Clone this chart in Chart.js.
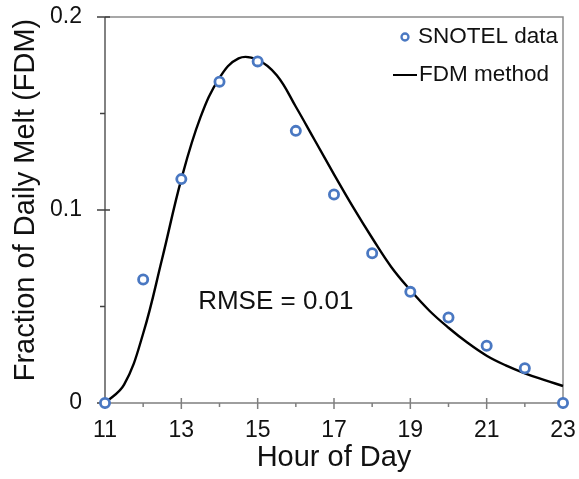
<!DOCTYPE html>
<html>
<head>
<meta charset="utf-8">
<script src="https://cdn.jsdelivr.net/npm/chart.js@4.4.1/dist/chart.umd.min.js"></script>
<style>
  html, body { margin: 0; padding: 0; background: #fff; }
  #wrap { width: 579px; height: 479px; position: relative; }
</style>
</head>
<body>
<div id="wrap"><canvas id="melt"></canvas></div>
<script>
// SNOTEL hourly observations (fraction of daily melt)
const hours = [11, 12, 13, 14, 15, 16, 17, 18, 19, 20, 21, 22, 23];
const snotelFdm = [0, 0.064, 0.116, 0.1665, 0.177, 0.141, 0.108, 0.0776, 0.0576, 0.0443, 0.0297, 0.018, 0];

// FDM method curve, every half hour
const curveHours = [11, 11.5, 12, 12.5, 13, 13.5, 14, 14.5, 15, 15.5, 16, 16.5, 17,
                    17.5, 18, 18.5, 19, 19.5, 20, 20.5, 21, 21.5, 22, 22.5, 23];
const curveFdm = [0, 0.0095, 0.036, 0.075, 0.116, 0.148, 0.1685, 0.1786, 0.1778, 0.1698, 0.1535, 0.136, 0.1185,
                  0.1015, 0.0855, 0.0705, 0.0585, 0.0478, 0.039, 0.0312, 0.0245, 0.0195, 0.0154, 0.012, 0.0088];

// ticks
const xMajor = [11, 13, 15, 17, 19, 21, 23];
const xMinor = [12, 14, 16, 18, 20, 22];
const yMajor = [0, 0.1, 0.2];
const yMinor = [0.05, 0.15];

const legendLabels = ['SNOTEL data', 'FDM method'];
const yTitle = 'Fraction of Daily Melt (FDM)';
const rmseText = 'RMSE = 0.01';
const rmsePos = [13.44, 0.0523];   // where the note sits, in data units

const FONT = '"Liberation Sans", Arial, sans-serif';
const BLUE = '#4a78c2';

// axes drawn by hand so the ticks can cross the axis line like the original
const framePlugin = {
  id: 'frame',
  beforeDatasetsDraw(chart) {
    const {ctx, chartArea: a, scales: {x, y}} = chart;
    ctx.save();
    ctx.lineCap = 'butt';

    // top + right border
    ctx.strokeStyle = '#8a8a8a';
    ctx.lineWidth = 1.5;
    ctx.beginPath();
    ctx.moveTo(a.left, a.top);
    ctx.lineTo(a.right, a.top);
    ctx.lineTo(a.right, a.bottom);
    ctx.stroke();

    // x axis
    ctx.strokeStyle = '#7f7f7f';
    ctx.beginPath();
    ctx.moveTo(a.left, a.bottom);
    ctx.lineTo(a.right, a.bottom);
    xMajor.forEach(v => {
      const px = x.getPixelForValue(v);
      ctx.moveTo(px, a.bottom - 5);
      ctx.lineTo(px, a.bottom + 6);
    });
    xMinor.forEach(v => {
      const px = x.getPixelForValue(v);
      ctx.moveTo(px, a.bottom);
      ctx.lineTo(px, a.bottom + 4);
    });
    ctx.stroke();

    // y axis
    ctx.strokeStyle = '#404040';
    ctx.lineWidth = 1.3;
    ctx.beginPath();
    ctx.moveTo(a.left, a.top);
    ctx.lineTo(a.left, a.bottom);
    yMajor.forEach(v => {
      const py = y.getPixelForValue(v);
      ctx.moveTo(a.left - 8, py);
      ctx.lineTo(a.left + (v > 0 ? 5 : 0), py);
    });
    yMinor.forEach(v => {
      const py = y.getPixelForValue(v);
      ctx.moveTo(a.left - 5, py);
      ctx.lineTo(a.left, py);
    });
    ctx.stroke();
    ctx.restore();
  },
  afterDatasetsDraw(chart) {
    const {ctx, chartArea: a, scales: {x, y}} = chart;
    ctx.save();
    ctx.fillStyle = '#111';
    ctx.textBaseline = 'middle';
    ctx.textAlign = 'left';

    // RMSE note
    ctx.font = '26px ' + FONT;
    ctx.fillText(rmseText, x.getPixelForValue(rmsePos[0]), y.getPixelForValue(rmsePos[1]));

    // legend
    const lx = a.right - 145;
    ctx.font = '22.5px ' + FONT;
    ctx.strokeStyle = BLUE;
    ctx.lineWidth = 2.3;
    ctx.beginPath();
    ctx.arc(lx - 13, a.top + 20, 3.5, 0, Math.PI * 2);
    ctx.stroke();
    ctx.fillText(legendLabels[0], lx, a.top + 20);

    ctx.strokeStyle = '#000';
    ctx.lineWidth = 2;
    ctx.beginPath();
    ctx.moveTo(lx - 25, a.top + 58);
    ctx.lineTo(lx - 1, a.top + 58);
    ctx.stroke();
    ctx.fillText(legendLabels[1], lx + 1, a.top + 58);

    // y axis title (sits a little above the axis centre in the original)
    ctx.font = '29px ' + FONT;
    ctx.textAlign = 'center';
    ctx.translate(26, (a.top + a.bottom) / 2 - 10);
    ctx.rotate(-Math.PI / 2);
    ctx.fillText(yTitle, 0, 0);
    ctx.restore();
  }
};

const ctx = document.getElementById('melt').getContext('2d');
const meltChart = new Chart(ctx, {
  type: 'scatter',
  data: {
    datasets: [{
      label: legendLabels[0],
      data: hours.map((h, i) => ({x: h, y: snotelFdm[i]})),
      pointRadius: 4.6,
      pointBorderWidth: 2.8,
      pointBorderColor: BLUE,
      pointBackgroundColor: '#fff',
      showLine: false,
      clip: false,
      order: 0
    }, {
      label: legendLabels[1],
      data: curveHours.map((h, i) => ({x: h, y: curveFdm[i]})),
      showLine: true,
      borderColor: '#000',
      borderWidth: 2.4,
      pointRadius: 0,
      tension: 0.4,
      fill: false,
      clip: false,
      order: 1
    }]
  },
  options: {
    responsive: true,
    maintainAspectRatio: false,
    animation: false,
    layout: { padding: { top: 17, right: 16, left: 0, bottom: 0 } },
    plugins: {
      legend: { display: false },
      tooltip: { enabled: false }
    },
    scales: {
      x: {
        type: 'linear',
        min: 11,
        max: 23,
        afterFit(scale) {
          scale.height = 76;
          scale.paddingLeft = 0;
          scale.paddingRight = 0;
        },
        grid: { display: false, drawTicks: false },
        border: { display: false },
        ticks: {
          stepSize: 2,
          padding: 14,
          maxRotation: 0,
          color: '#111',
          font: { family: FONT, size: 23 }
        },
        title: {
          display: true,
          text: 'Hour of Day',
          color: '#111',
          font: { family: FONT, size: 29 },
          padding: { top: 0, bottom: 4 }
        }
      },
      y: {
        min: 0,
        max: 0.2,
        afterFit(scale) {
          scale.width = 105;
          scale.paddingTop = 0;
          scale.paddingBottom = 0;
        },
        grid: { display: false, drawTicks: false },
        border: { display: false },
        ticks: {
          stepSize: 0.1,
          padding: 23,
          color: '#111',
          font: { family: FONT, size: 23 },
          callback: v => v === 0 ? '0' : v.toFixed(1)
        }
      }
    }
  },
  plugins: [framePlugin]
});
</script>
</body>
</html>
